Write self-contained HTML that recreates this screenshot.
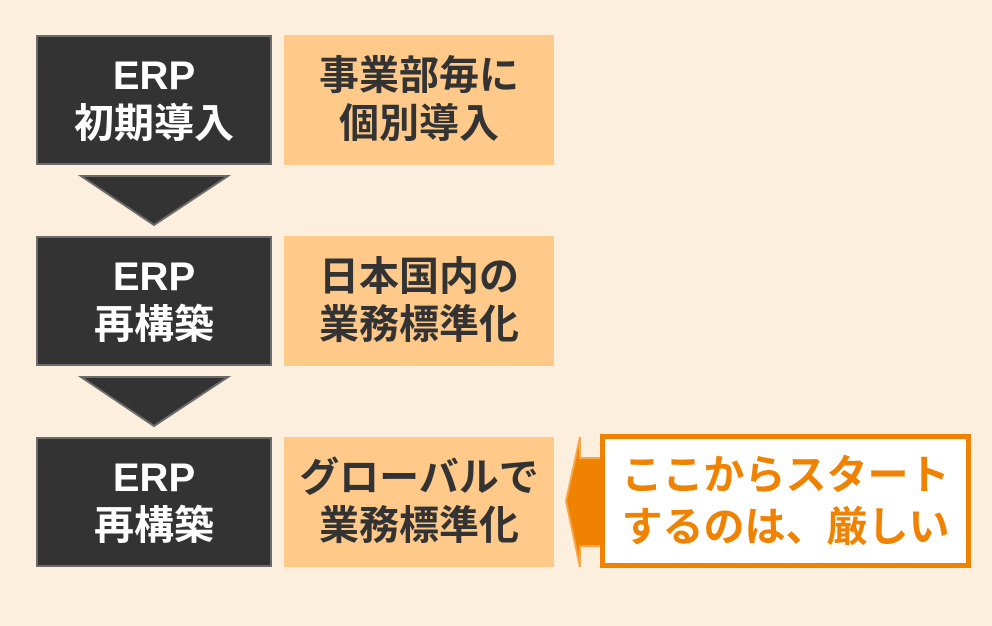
<!DOCTYPE html>
<html><head><meta charset="utf-8"><style>
body{margin:0;width:992px;height:626px;background:#fdefde;position:relative;overflow:hidden;font-family:"Liberation Sans","Noto Sans CJK JP",sans-serif;font-weight:bold}
.d{position:absolute;left:36px;width:232px;height:126px;background:#333;border:2px solid #6b6b6b;color:#fff;font-size:40px;line-height:48px;display:flex;align-items:center;justify-content:center;text-align:center}
.o{position:absolute;left:284px;width:270px;height:130px;background:#ffc98a;color:#333;font-size:40px;line-height:48px;display:flex;align-items:center;justify-content:center;text-align:center;white-space:nowrap}
svg{position:absolute;left:0;top:0}
.w{position:absolute;left:600px;top:434px;width:361px;height:124px;border:5px solid #ef8200;background:#fff;color:#ef8200;font-size:41px;line-height:52px;display:flex;align-items:center;justify-content:center;text-align:center;white-space:nowrap}
</style></head><body>
<div class="d" style="top:35px">ERP<br>初期導入</div>
<div class="o" style="top:35px">事業部毎に<br>個別導入</div>
<div class="d" style="top:236px">ERP<br>再構築</div>
<div class="o" style="top:236px">日本国内の<br>業務標準化</div>
<div class="d" style="top:437px">ERP<br>再構築</div>
<div class="o" style="top:437px">グローバルで<br>業務標準化</div>
<svg width="992" height="626">
<polygon points="81,176 228,176 154,225" fill="#333" stroke="#6b6b6b" stroke-width="2"/>
<polygon points="81,377 228,377 154,426" fill="#333" stroke="#6b6b6b" stroke-width="2"/>
<polygon points="566,501 580,437 580,458 604,458 604,546 580,546 580,567" fill="#ef8200" stroke="#f8a64a" stroke-width="2"/>
</svg>
<div class="w">ここからスタート<br>するのは、厳しい</div>
</body></html>
